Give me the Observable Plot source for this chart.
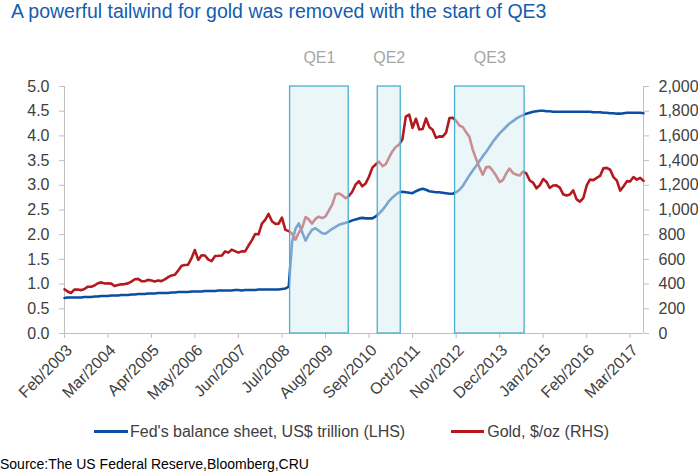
<!DOCTYPE html>
<html><head><meta charset="utf-8">
<script src="https://cdn.jsdelivr.net/npm/d3@7"></script>
<script src="https://cdn.jsdelivr.net/npm/@observablehq/plot@0.6"></script>
<style>
body{margin:0;background:#fff;font-family:"Liberation Sans",Arial,sans-serif;}
#wrap{position:relative;width:698px;height:473px;overflow:hidden;background:#fff}
#title{height:30px;line-height:22px;padding-left:11px;font-size:19.5px;color:#135db0;white-space:nowrap}
#chart{height:385px}
#chart svg{overflow:visible;display:block}
#legend{height:34px;line-height:34px;padding-left:94px;font-size:16px;color:#404040;white-space:nowrap}
.sw{display:inline-block;height:3px;vertical-align:middle;position:relative;top:-1px}
#source{height:30px;line-height:30px;font-size:14px;color:#000;white-space:nowrap}
</style></head><body>
<div id="wrap">
<div id="title">A powerful tailwind for gold was removed with the start of QE3</div>
<div id="chart"></div>
<div id="legend"><span class="sw" style="background:#0b4ea2;width:34px;margin-right:2px"></span>Fed's balance sheet, US$ trillion (LHS)<span class="sw" style="background:#b3191f;width:33px;margin-left:46px;margin-right:3px"></span>Gold, $/oz (RHS)</div>
<div id="source">Source:The US Federal Reserve,Bloomberg,CRU</div>
</div>
<script>
// Monthly series, Feb/2003 .. Jul/2017
const firstMonth = "2003-02-01";
const fedBalance = [
  // 2003 (Feb-Dec)
  0.72,0.73,0.73,0.73,0.73,0.73,0.74,0.74,0.74,0.75,0.75,
  // 2004
  0.76,0.76,0.76,0.77,0.77,0.77,0.78,0.78,0.78,0.79,0.79,0.80,
  // 2005
  0.80,0.80,0.81,0.81,0.81,0.82,0.82,0.82,0.82,0.83,0.83,0.84,
  // 2006
  0.84,0.84,0.84,0.85,0.85,0.85,0.85,0.86,0.86,0.86,0.86,0.87,
  // 2007
  0.87,0.87,0.87,0.87,0.88,0.88,0.87,0.88,0.88,0.88,0.88,0.89,
  // 2008
  0.89,0.89,0.89,0.89,0.89,0.89,0.90,0.91,0.95,1.85,2.12,2.23,
  // 2009
  2.05,1.88,2.00,2.10,2.13,2.08,2.03,2.02,2.07,2.12,2.16,2.20,
  // 2010
  2.22,2.24,2.26,2.29,2.31,2.33,2.34,2.33,2.33,2.33,2.37,2.43,
  // 2011
  2.50,2.59,2.68,2.75,2.81,2.86,2.87,2.86,2.85,2.84,2.88,2.91,
  // 2012
  2.93,2.91,2.88,2.87,2.86,2.86,2.85,2.84,2.83,2.83,2.86,2.91,
  // 2013
  2.99,3.10,3.20,3.30,3.39,3.49,3.59,3.68,3.78,3.88,3.97,4.05,
  // 2014
  4.12,4.19,4.25,4.30,4.35,4.39,4.42,4.45,4.47,4.49,4.50,4.51,
  // 2015
  4.51,4.50,4.50,4.49,4.49,4.49,4.49,4.49,4.49,4.49,4.49,4.49,
  // 2016
  4.49,4.49,4.49,4.48,4.48,4.48,4.47,4.47,4.46,4.46,4.45,4.45,
  // 2017 (Jan-Jul)
  4.46,4.47,4.47,4.47,4.47,4.47,4.46
];
const goldPrice = [
  // 2003 (Feb-Dec)
  359,340,328,355,356,351,360,379,379,389,407,
  // 2004
  414,405,406,404,384,392,398,400,406,420,439,442,
  // 2005
  424,423,434,429,422,430,424,438,456,470,476,510,
  // 2006
  549,555,557,610,676,596,633,632,598,586,628,629,
  // 2007
  631,665,655,679,667,655,665,665,712,754,806,803,
  // 2008
  889,922,968,909,888,889,939,839,829,807,760,816,
  // 2009
  858,943,924,890,928,946,934,949,996,1043,1127,1134,
  // 2010
  1118,1095,1113,1148,1205,1233,1193,1215,1271,1343,1370,1391,
  // 2011
  1356,1372,1424,1474,1510,1529,1572,1756,1772,1665,1739,1652,
  // 2012
  1656,1742,1673,1650,1585,1596,1594,1626,1744,1747,1721,1684,
  // 2013
  1671,1627,1593,1487,1414,1343,1286,1347,1349,1316,1275,1225,
  // 2014
  1244,1300,1336,1299,1287,1279,1311,1296,1239,1222,1176,1200,
  // 2015
  1251,1227,1178,1198,1199,1181,1128,1117,1125,1159,1086,1068,
  // 2016
  1097,1200,1246,1242,1260,1276,1337,1341,1326,1266,1238,1157,
  // 2017 (Jan-Jul)
  1192,1234,1231,1267,1246,1260,1236
];
const qeLabels = ["QE1","QE2","QE3"];
const qeStart = ["2008-09-13","2010-11-19","2012-10-22"];
const qeEnd   = ["2010-02-28","2011-06-16","2014-07-16"];
const xTickLabels = ["Feb/2003","Mar/2004","Apr/2005","May/2006","Jun/2007","Jul/2008","Aug/2009",
  "Sep/2010","Oct/2011","Nov/2012","Dec/2013","Jan/2015","Feb/2016","Mar/2017"];
const leftTicks = [0,0.5,1,1.5,2,2.5,3,3.5,4,4.5,5];
const goldPerUnit = 400; // 2,000 $/oz on right axis == 5.0 on left axis

const parseDay = d3.utcParse("%Y-%m-%d");
const parseTick = d3.utcParse("%b/%Y");
const start = parseDay(firstMonth);
const months = fedBalance.map((_, i) => d3.utcMonth.offset(start, i));
const data = months.map((d, i) => ({date: d, fed: fedBalance[i], gold: goldPrice[i]}));
const qe = qeLabels.map((l, i) => ({label: l, start: parseDay(qeStart[i]), end: parseDay(qeEnd[i])}));
const tickDates = xTickLabels.map(parseTick);
const x0 = months[0], x1 = months[months.length - 1];
const gray = "#bfbfbf", txt = "#404040";

const chart = Plot.plot({
  width: 698, height: 385,
  marginTop: 56, marginBottom: 82, marginLeft: 64, marginRight: 55,
  style: {fontFamily: "Liberation Sans, Arial, sans-serif", fontSize: "16px", color: txt, background: "transparent", overflow: "visible"},
  x: {type: "utc", domain: [x0, x1]},
  y: {domain: [0, 5]},
  marks: [
    Plot.ruleY([0], {stroke: gray, strokeWidth: 1}),
    Plot.ruleX([x0], {stroke: gray, strokeWidth: 1}),
    Plot.ruleX([x1], {stroke: gray, strokeWidth: 1}),
    Plot.axisY({anchor: "left", ticks: leftTicks, tickFormat: d3.format(".1f"), tickSize: 5, tickPadding: 10, stroke: gray, fill: txt, fontSize: 16, label: null}),
    Plot.axisY({anchor: "right", ticks: leftTicks, tickFormat: d => d3.format(",")(Math.round(d * goldPerUnit)), tickSize: 5, tickPadding: 10, stroke: gray, fill: txt, fontSize: 16, label: null}),
    Plot.axisX({ticks: tickDates, tickFormat: d3.utcFormat("%b/%Y"), tickSize: 5, stroke: gray, label: null, text: null}),
    Plot.axisX({ticks: tickDates, tickFormat: d3.utcFormat("%b/%Y"), tickRotate: -45, tickSize: 0, tickPadding: 14, dx: 5, fill: txt, fontSize: 16, label: null}),
    Plot.lineY(data, {x: "date", y: "fed", stroke: "#0b4ea2", strokeWidth: 2.6}),
    Plot.lineY(data, {x: "date", y: d => d.gold / goldPerUnit, stroke: "#b3191f", strokeWidth: 2.6}),
    Plot.rect(qe, {x1: "start", x2: "end", y1: 0, y2: 5, fill: "#dbeef4", fillOpacity: 0.55, stroke: "#4aaed0", strokeWidth: 1.3}),
    Plot.text(qe, {x: d => new Date((+d.start + +d.end) / 2), y: 5, dy: -29, text: "label", fill: "#a6a6a6", fontSize: 16})
  ]
});
document.getElementById("chart").appendChild(chart);
</script>
</body></html>
